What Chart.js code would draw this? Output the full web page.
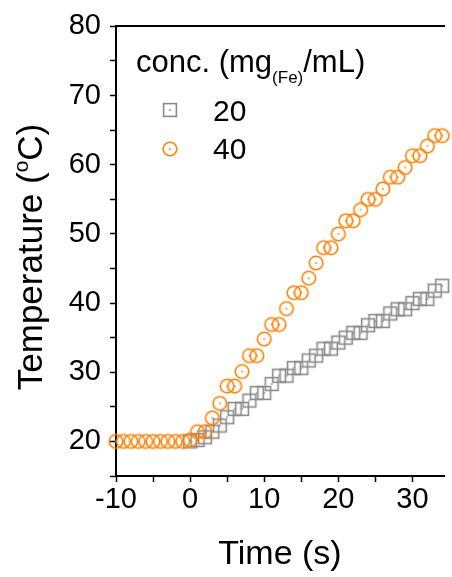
<!DOCTYPE html>
<html>
<head>
<meta charset="utf-8">
<script src="https://cdn.jsdelivr.net/npm/chart.js@4/dist/chart.umd.min.js"></script>
<style>
  html, body { margin: 0; padding: 0; background: #fff; }
  #wrap { width: 452px; height: 577px; }
</style>
</head>
<body>
<div id="wrap"><canvas id="heatChart" width="452" height="577"></canvas></div>
<script>
const time = [-10, -9, -8, -7, -6, -5, -4, -3, -2, -1, 0, 1, 2, 3, 4, 5, 6, 7, 8, 9, 10, 11, 12, 13, 14, 15, 16,
    17, 18, 19, 20, 21, 22, 23, 24, 25, 26, 27, 28, 29, 30, 31, 32, 33, 34];

// the 20 mg series is not visible before t = 0
const temp20 = [null, null, null, null, null, null, null, null, null, null, 20.0, 20.2, 20.6, 21.4, 22.3, 23.5,
    24.7, 24.7, 25.9, 27.0, 27.0, 28.3, 29.5, 29.5, 30.6, 30.6, 31.7, 32.4, 33.4, 33.4, 34.3, 35.0, 35.7, 35.7,
    36.8, 37.4, 37.4, 38.5, 39.1, 39.1, 40.0, 40.6, 40.6, 41.8, 42.5];

const temp40 = [20.0, 20.0, 20.0, 20.0, 20.0, 20.0, 20.0, 20.0, 20.0, 20.0, 20.2, 21.4, 21.4, 23.4, 25.5, 28.0,
    28.0, 30.1, 32.4, 32.4, 34.8, 36.9, 36.9, 39.2, 41.5, 41.5, 43.6, 45.8, 48.0, 48.0, 50.0, 51.9, 51.9, 53.5,
    55.0, 55.0, 56.5, 58.2, 58.2, 59.6, 61.3, 61.3, 62.7, 64.2, 64.2];

const concLabels = ['20', '40'];

const GREY = '#8a8a8a';
const ORANGE = '#ff8000';
const FONT = "'Liberation Sans', Arial, sans-serif";

// hollow marker with a dot in the middle
function marker(kind, color) {
    const c = document.createElement('canvas');
    c.width = 18;
    c.height = 18;
    const g = c.getContext('2d');
    g.strokeStyle = color;
    g.fillStyle = color;
    g.lineWidth = 1.6;
    if (kind === 'square') {
        g.strokeRect(2.6, 2.6, 12.8, 12.8);
    } else {
        g.beginPath();
        g.arc(9, 9, 6.8, 0, Math.PI * 2);
        g.stroke();
    }
    g.fillRect(8.2, 8.2, 1.6, 1.6);
    return c;
}

const squareMark = marker('square', GREY);
const circleMark = marker('circle', ORANGE);

function toPoints(ys) {
    return time.map((t, i) => ({ x: t, y: ys[i] })).filter(p => p.y !== null);
}

// legend with a subscripted title, and the y title with a superscript
const extras = {
    id: 'extras',
    afterDraw(chart) {
        const ctx = chart.ctx;
        ctx.save();
        ctx.fillStyle = '#000';
        ctx.textBaseline = 'alphabetic';
        ctx.textAlign = 'left';

        let x = 136;
        ctx.font = '31px ' + FONT;
        ctx.fillText('conc. (mg', x, 72);
        x += ctx.measureText('conc. (mg').width;
        ctx.font = '17px ' + FONT;
        ctx.fillText('(Fe)', x, 83);
        x += ctx.measureText('(Fe)').width;
        ctx.font = '31px ' + FONT;
        ctx.fillText('/mL)', x, 72);

        ctx.font = '30px ' + FONT;
        ctx.drawImage(squareMark, 170 - 9, 110 - 9);
        ctx.drawImage(circleMark, 170 - 9, 149 - 9);
        ctx.fillText(concLabels[0], 213, 121);
        ctx.fillText(concLabels[1], 213, 159);

        // y axis title
        ctx.translate(42, 257);
        ctx.rotate(-Math.PI / 2);
        const big = '35px ' + FONT;
        const small = '21px ' + FONT;
        ctx.font = big;
        const w1 = ctx.measureText('Temperature (').width;
        ctx.font = small;
        const w2 = ctx.measureText('o').width;
        ctx.font = big;
        const w3 = ctx.measureText('C)').width;
        let px = -(w1 + w2 + w3) / 2;
        ctx.fillText('Temperature (', px, 0);
        px += w1;
        ctx.font = small;
        ctx.fillText('o', px, -14);
        px += w2;
        ctx.font = big;
        ctx.fillText('C)', px, 0);
        ctx.restore();
    }
};

new Chart(document.getElementById('heatChart'), {
    type: 'scatter',
    data: {
        datasets: [{
            label: concLabels[0],
            data: toPoints(temp20),
            pointStyle: squareMark,
            pointRadius: 7,
            order: 2,
            clip: false
        }, {
            label: concLabels[1],
            data: toPoints(temp40),
            pointStyle: circleMark,
            pointRadius: 7,
            order: 1,
            clip: false
        }]
    },
    options: {
        responsive: false,
        animation: false,
        events: [],
        layout: { padding: { top: 24, right: 0, left: 0, bottom: 0 } },
        plugins: {
            legend: { display: false },
            tooltip: { enabled: false }
        },
        scales: {
            x: {
                type: 'linear',
                position: 'bottom',
                min: -10,
                max: 34.25,
                afterFit(scale) { scale.height = 101; },
                afterBuildTicks(scale) {
                    scale.ticks = [-10, -5, 0, 5, 10, 15, 20, 25, 30].map(v => ({ value: v }));
                },
                ticks: {
                    color: '#000',
                    font: { family: FONT, size: 29 },
                    padding: 1,
                    maxRotation: 0,
                    autoSkip: false,
                    callback: v => (v % 10 === 0 ? String(v) : '')
                },
                grid: {
                    drawOnChartArea: false,
                    tickLength: 6,
                    tickWidth: 1.5,
                    tickColor: '#000'
                },
                border: { display: true, color: '#000', width: 2 },
                title: {
                    display: true,
                    text: 'Time (s)',
                    color: '#000',
                    font: { family: FONT, size: 34 },
                    padding: { top: 0, bottom: 2 }
                }
            },
            top: {
                type: 'linear',
                position: 'top',
                min: 0,
                max: 1,
                afterFit(scale) { scale.height = 0; },
                ticks: { display: false },
                grid: { display: false },
                border: { display: true, color: '#000', width: 2 }
            },
            y: {
                type: 'linear',
                min: 15,
                max: 80,
                afterFit(scale) { scale.width = 116; },
                ticks: {
                    stepSize: 5,
                    autoSkip: false,
                    color: '#000',
                    font: { family: FONT, size: 29 },
                    padding: 9,
                    callback: v => (v % 10 === 0 ? String(v) : '')
                },
                grid: {
                    drawOnChartArea: false,
                    tickLength: 6,
                    tickWidth: 1.5,
                    tickColor: '#000'
                },
                border: { display: true, color: '#000', width: 2 }
            }
        }
    },
    plugins: [extras]
});
</script>
</body>
</html>
